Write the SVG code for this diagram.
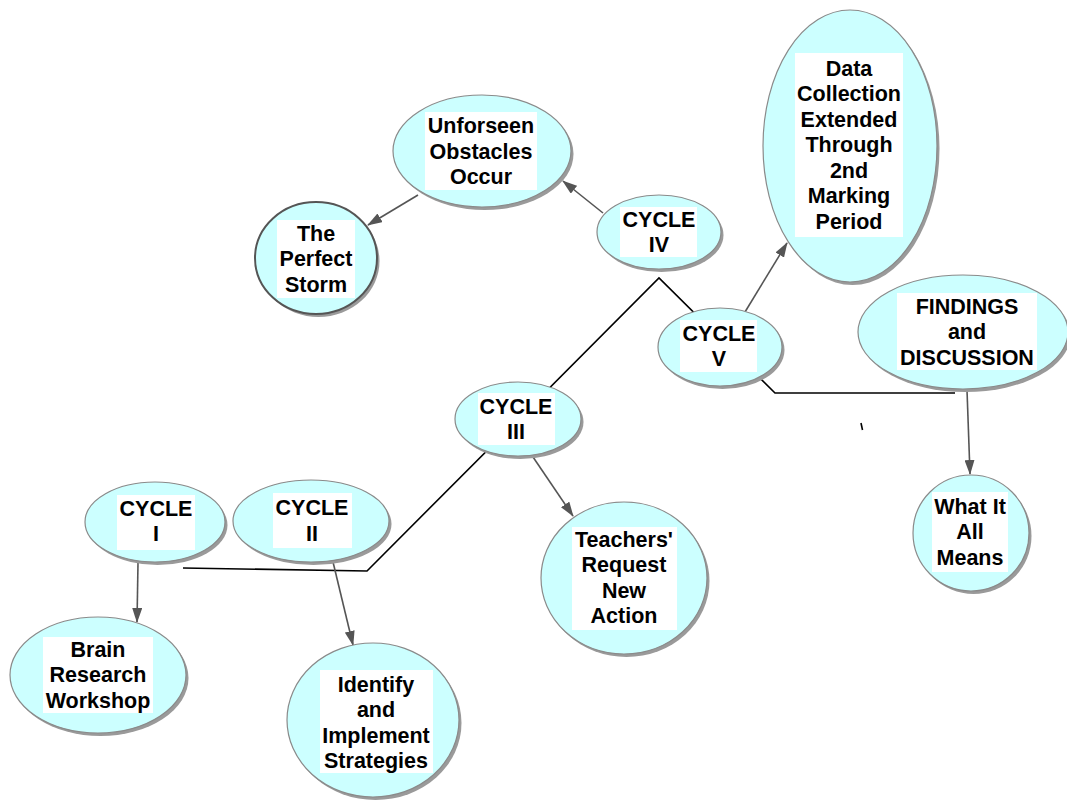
<svg xmlns="http://www.w3.org/2000/svg" width="1067" height="800" viewBox="0 0 1067 800">
<defs>
<style>
.sh{fill:#9a9a9a}
.nd{fill:#ccffff;stroke:#8a8a8a;stroke-width:1.2}
.bx{fill:#ffffff}
.t{font-family:"Liberation Sans",Arial,sans-serif;font-weight:bold;font-size:21.5px;fill:#000;text-anchor:middle}
.ln{fill:none;stroke:#000;stroke-width:1.6}
.ar{fill:none;stroke:#555;stroke-width:1.6}
</style>
<marker id="ah" viewBox="0 0 15 10" refX="14" refY="5" markerWidth="15" markerHeight="10" markerUnits="userSpaceOnUse" orient="auto">
<path d="M0,0 L15,5 L0,10 Z" fill="#555"/>
</marker>
</defs>
<rect width="1067" height="800" fill="#fff"/>
<g id="connectors">
<polyline class="ln" points="183,568 367,571 659,278 775,393 955,393"/>
<line class="ln" x1="861" y1="423" x2="862.5" y2="430" stroke-width="1.5"/>
<line class="ar" x1="603" y1="213" x2="563" y2="181" marker-end="url(#ah)"/>
<line class="ar" x1="418" y1="195" x2="368" y2="225" marker-end="url(#ah)"/>
<line class="ar" x1="745" y1="312" x2="787" y2="243" marker-end="url(#ah)"/>
<line class="ar" x1="967" y1="390" x2="970" y2="474" marker-end="url(#ah)"/>
<line class="ar" x1="533" y1="457" x2="573" y2="516" marker-end="url(#ah)"/>
<line class="ar" x1="138" y1="563" x2="137" y2="622" marker-end="url(#ah)"/>
<line class="ar" x1="333" y1="562" x2="353" y2="645" marker-end="url(#ah)"/>
</g>
<g id="unforseen">
<ellipse class="sh" cx="484.5" cy="154" rx="89" ry="56"/>
<ellipse class="nd" cx="482" cy="151" rx="89" ry="56"/>
<rect class="bx" x="425" y="112" width="112" height="78"/>
<text class="t" x="481" y="133">Unforseen</text>
<text class="t" x="481" y="158.5">Obstacles</text>
<text class="t" x="481" y="184">Occur</text>
</g>
<g id="perfect-storm">
<ellipse class="sh" cx="318.5" cy="261" rx="61" ry="56"/>
<ellipse cx="316" cy="258" rx="61" ry="56" fill="#ccffff" stroke="#555" stroke-width="2"/>
<rect class="bx" x="277" y="220" width="78" height="78"/>
<text class="t" x="316" y="240.5">The</text>
<text class="t" x="316" y="266">Perfect</text>
<text class="t" x="316" y="291.5">Storm</text>
</g>
<g id="cycle-iv">
<ellipse class="sh" cx="661.5" cy="235" rx="62" ry="37"/>
<ellipse class="nd" cx="659" cy="232" rx="62" ry="37"/>
<rect class="bx" x="620" y="207" width="77" height="50"/>
<text class="t" x="659" y="227">CYCLE</text>
<text class="t" x="659" y="252">IV</text>
</g>
<g id="data-collection">
<ellipse class="sh" cx="852.5" cy="149" rx="87" ry="136"/>
<ellipse class="nd" cx="850" cy="146" rx="87" ry="136"/>
<rect class="bx" x="795" y="53" width="108" height="184"/>
<text class="t" x="849" y="75.5">Data</text>
<text class="t" x="849" y="101">Collection</text>
<text class="t" x="849" y="126.5">Extended</text>
<text class="t" x="849" y="152">Through</text>
<text class="t" x="849" y="177.5">2nd</text>
<text class="t" x="849" y="203">Marking</text>
<text class="t" x="849" y="228.5">Period</text>
</g>
<g id="cycle-v">
<ellipse class="sh" cx="722.5" cy="350" rx="62" ry="39"/>
<ellipse class="nd" cx="720" cy="347" rx="62" ry="39"/>
<rect class="bx" x="680" y="320" width="77" height="52"/>
<text class="t" x="719" y="341">CYCLE</text>
<text class="t" x="719" y="366">V</text>
</g>
<g id="findings">
<ellipse class="sh" cx="965.5" cy="335" rx="105" ry="57"/>
<ellipse class="nd" cx="963" cy="332" rx="105" ry="57"/>
<rect class="bx" x="897" y="293" width="140" height="77"/>
<text class="t" x="967" y="313.5">FINDINGS</text>
<text class="t" x="967" y="339">and</text>
<text class="t" x="967" y="364.5">DISCUSSION</text>
</g>
<g id="cycle-iii">
<ellipse class="sh" cx="520.5" cy="422" rx="63" ry="37"/>
<ellipse class="nd" cx="518" cy="419" rx="63" ry="37"/>
<rect class="bx" x="478" y="393" width="77" height="52"/>
<text class="t" x="516" y="413.5">CYCLE</text>
<text class="t" x="516" y="439">III</text>
</g>
<g id="teachers">
<ellipse class="sh" cx="626.5" cy="581" rx="83" ry="76"/>
<ellipse class="nd" cx="624" cy="578" rx="83" ry="76"/>
<rect class="bx" x="572" y="527" width="105" height="103"/>
<text class="t" x="624" y="546.5">Teachers'</text>
<text class="t" x="624" y="572">Request</text>
<text class="t" x="624" y="597.5">New</text>
<text class="t" x="624" y="623">Action</text>
</g>
<g id="what-it-all-means">
<ellipse class="sh" cx="973.5" cy="536" rx="58" ry="58"/>
<ellipse class="nd" cx="971" cy="533" rx="58" ry="58"/>
<rect class="bx" x="932" y="492" width="76" height="80"/>
<text class="t" x="970" y="513.5">What It</text>
<text class="t" x="970" y="539">All</text>
<text class="t" x="970" y="564.5">Means</text>
</g>
<g id="cycle-i">
<ellipse class="sh" cx="157.5" cy="525" rx="70" ry="40"/>
<ellipse class="nd" cx="155" cy="522" rx="70" ry="40"/>
<rect class="bx" x="117" y="495" width="78" height="55"/>
<text class="t" x="156" y="515.5">CYCLE</text>
<text class="t" x="156" y="541">I</text>
</g>
<g id="cycle-ii">
<ellipse class="sh" cx="313.5" cy="524" rx="78" ry="41"/>
<ellipse class="nd" cx="311" cy="521" rx="78" ry="41"/>
<rect class="bx" x="273" y="493" width="79" height="55"/>
<text class="t" x="312" y="515">CYCLE</text>
<text class="t" x="312" y="540.5">II</text>
</g>
<g id="brain-research">
<ellipse class="sh" cx="100.5" cy="678" rx="88" ry="58"/>
<ellipse class="nd" cx="98" cy="675" rx="88" ry="58"/>
<rect class="bx" x="43" y="637" width="110" height="76"/>
<text class="t" x="98" y="656.5">Brain</text>
<text class="t" x="98" y="682">Research</text>
<text class="t" x="98" y="707.5">Workshop</text>
</g>
<g id="identify">
<ellipse class="sh" cx="375.5" cy="723" rx="86" ry="77"/>
<ellipse class="nd" cx="373" cy="720" rx="86" ry="77"/>
<rect class="bx" x="320" y="670" width="113" height="103"/>
<text class="t" x="376" y="691.5">Identify</text>
<text class="t" x="376" y="717">and</text>
<text class="t" x="376" y="742.5">Implement</text>
<text class="t" x="376" y="768">Strategies</text>
</g>
</svg>
